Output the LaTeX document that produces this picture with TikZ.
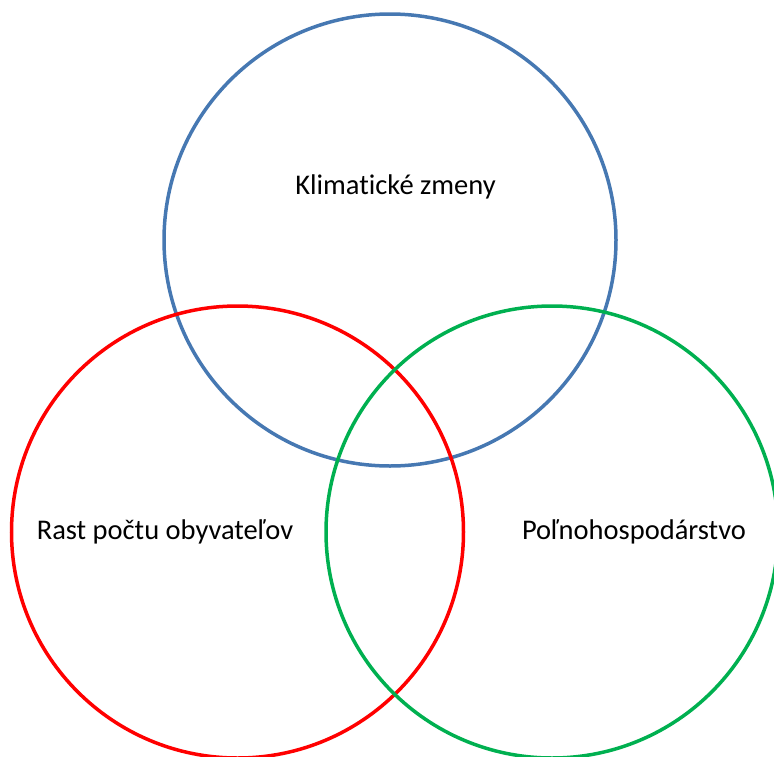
\documentclass[tikz,border=0pt]{standalone}
\usepackage{fontspec}
\setmainfont[Ligatures=NoCommon]{Carlito}
\usetikzlibrary{positioning}
\definecolor{climateBlue}{RGB}{70, 120, 178}
\definecolor{growthRed}{RGB}{255, 0, 0}
\definecolor{farmGreen}{RGB}{0, 176, 80}
\tikzset{
    % Base Circle Style
    setCircle/.style={
        circle,
        minimum size=452pt,
        inner sep=0pt,
        line width=3.5pt
    },
    % Specific Set Styles
    setClimate/.style={setCircle, draw=climateBlue},
    setGrowth/.style={setCircle, draw=growthRed},
    setFarm/.style={setCircle, draw=farmGreen},
    % Label Style
    setLabel/.style={font=\fontsize{28.5}{32}\selectfont, text=black, inner sep=0pt}
}
\begin{document}
\begin{tikzpicture}[x=1pt, y=-1pt]

    % --- Frame ---
    \useasboundingbox (0,0) rectangle (774,756);
    \clip (0,0) rectangle (774,756);

    % --- Circles ---
    \node (climate) [setClimate] at (390,240) {};
    \node (growth) [setGrowth] at (237.5,532) {};
    \node (farm) [setFarm] at (552,532) {};

    % --- Labels ---
    \node (climateText) [setLabel] at (395.5,187) {Klimatické zmeny};
    \node (growthText) [setLabel] at (165,532) {Rast počtu obyvateľov};
    \node (farmText) [setLabel] at (634,532) {Poľnohospodárstvo};

\end{tikzpicture}
\end{document}
